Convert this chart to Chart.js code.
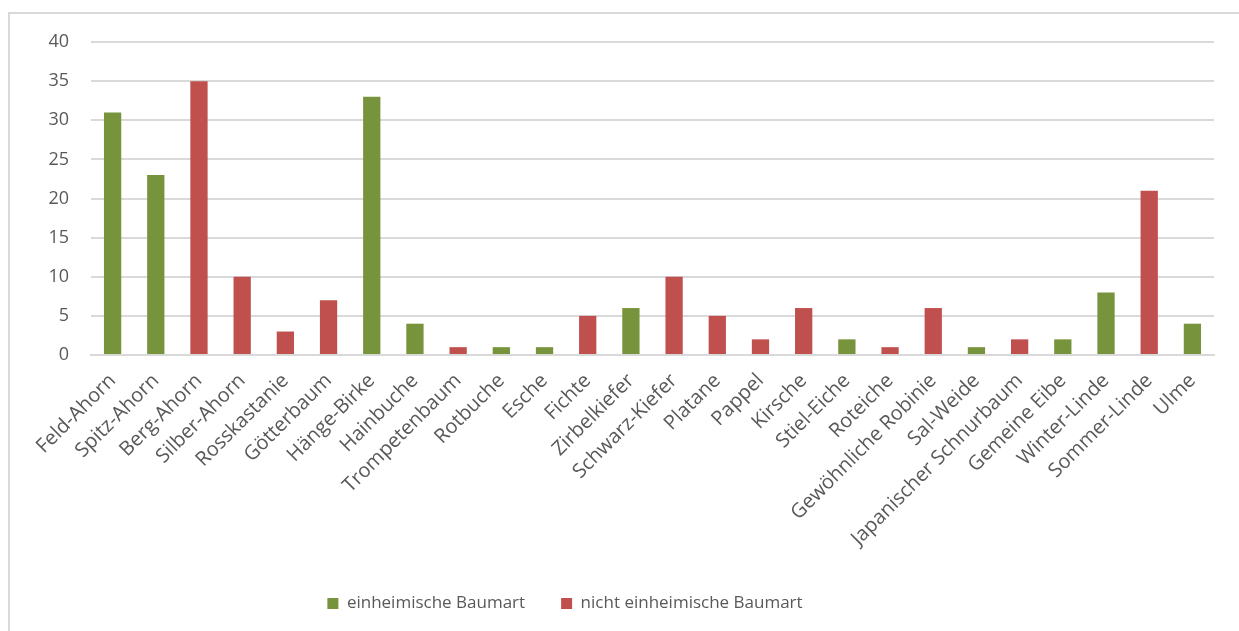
<!DOCTYPE html>
<html>
<head>
<meta charset="utf-8">
<script src="https://cdn.jsdelivr.net/npm/chart.js@4"></script>
<style>
  html, body { margin: 0; padding: 0; background: #fff; overflow: hidden; }
  #frame { position: absolute; left: 8px; top: 12px; width: 1260px; height: 660px; border: 2px solid #d9d9d9; box-sizing: border-box; }
  #wrap { position: absolute; left: 0; top: 0; width: 1239px; height: 631px; }
</style>
</head>
<body>
<div id="frame"></div>
<div id="wrap"><canvas id="barChart"></canvas></div>
<script>
const categories = ['Feld-Ahorn', 'Spitz-Ahorn', 'Berg-Ahorn', 'Silber-Ahorn', 'Rosskastanie', 'Götterbaum',
  'Hänge-Birke', 'Hainbuche', 'Trompetenbaum', 'Rotbuche', 'Esche', 'Fichte', 'Zirbelkiefer', 'Schwarz-Kiefer',
  'Platane', 'Pappel', 'Kirsche', 'Stiel-Eiche', 'Roteiche', 'Gewöhnliche Robinie', 'Sal-Weide',
  'Japanischer Schnurbaum', 'Gemeine Eibe', 'Winter-Linde', 'Sommer-Linde', 'Ulme'];

const native = [31, 23, null, null, null, null, 33, 4, null, 1, 1, null, 6, null,
  null, null, null, 2, null, null, 1, null, 2, 8, null, 4];

const nonNative = [null, null, 35, 10, 3, 7, null, null, 1, null, null, 5, null, 10,
  5, 2, 6, null, 1, 6, null, 2, null, null, 21, null];

const yTicks = [0, 5, 10, 15, 20, 25, 30, 35, 40];

const textColor = '#595959';
const gridColor = '#d9d9d9';
const fontFamily = '"Open Sans", sans-serif';

// legend sits a bit left of centre in the original
const shiftLegend = {
  id: 'shiftLegend',
  afterLayout(chart) {
    chart.legend.left -= 42;
    chart.legend.right -= 42;
  }
};

const ctx = document.getElementById('barChart').getContext('2d');
new Chart(ctx, {
  type: 'bar',
  data: {
    labels: categories,
    datasets: [{
      label: 'einheimische Baumart',
      data: native,
      backgroundColor: '#77933c'
    }, {
      label: 'nicht einheimische Baumart',
      data: nonNative,
      backgroundColor: '#c0504d'
    }]
  },
  options: {
    responsive: true,
    maintainAspectRatio: false,
    animation: false,
    layout: { padding: { top: 42, right: 25, bottom: 9, left: 0 } },
    datasets: { bar: { barPercentage: 0.4, categoryPercentage: 1 } },
    scales: {
      x: {
        stacked: true,
        grid: { display: false },
        border: { color: gridColor, width: 2 },
        ticks: {
          color: textColor,
          font: { family: fontFamily, size: 20 },
          maxRotation: 45,
          minRotation: 45,
          autoSkip: false,
          padding: 6
        },
        afterFit: (scale) => { scale.height = 204; }
      },
      y: {
        stacked: true,
        min: 0,
        max: 40,
        afterBuildTicks: (scale) => { scale.ticks = yTicks.map(v => ({ value: v })); },
        grid: { color: gridColor, lineWidth: 2, drawTicks: false },
        border: { display: false },
        ticks: {
          color: textColor,
          font: { family: fontFamily, size: 18 },
          padding: 22
        },
        afterFit: (scale) => { scale.width = 91; }
      }
    },
    plugins: {
      tooltip: { enabled: false },
      legend: {
        position: 'bottom',
        labels: {
          color: textColor,
          font: { family: fontFamily, size: 17 },
          boxWidth: 11,
          boxHeight: 11,
          padding: 36
        }
      }
    }
  },
  plugins: [shiftLegend]
});
</script>
</body>
</html>
